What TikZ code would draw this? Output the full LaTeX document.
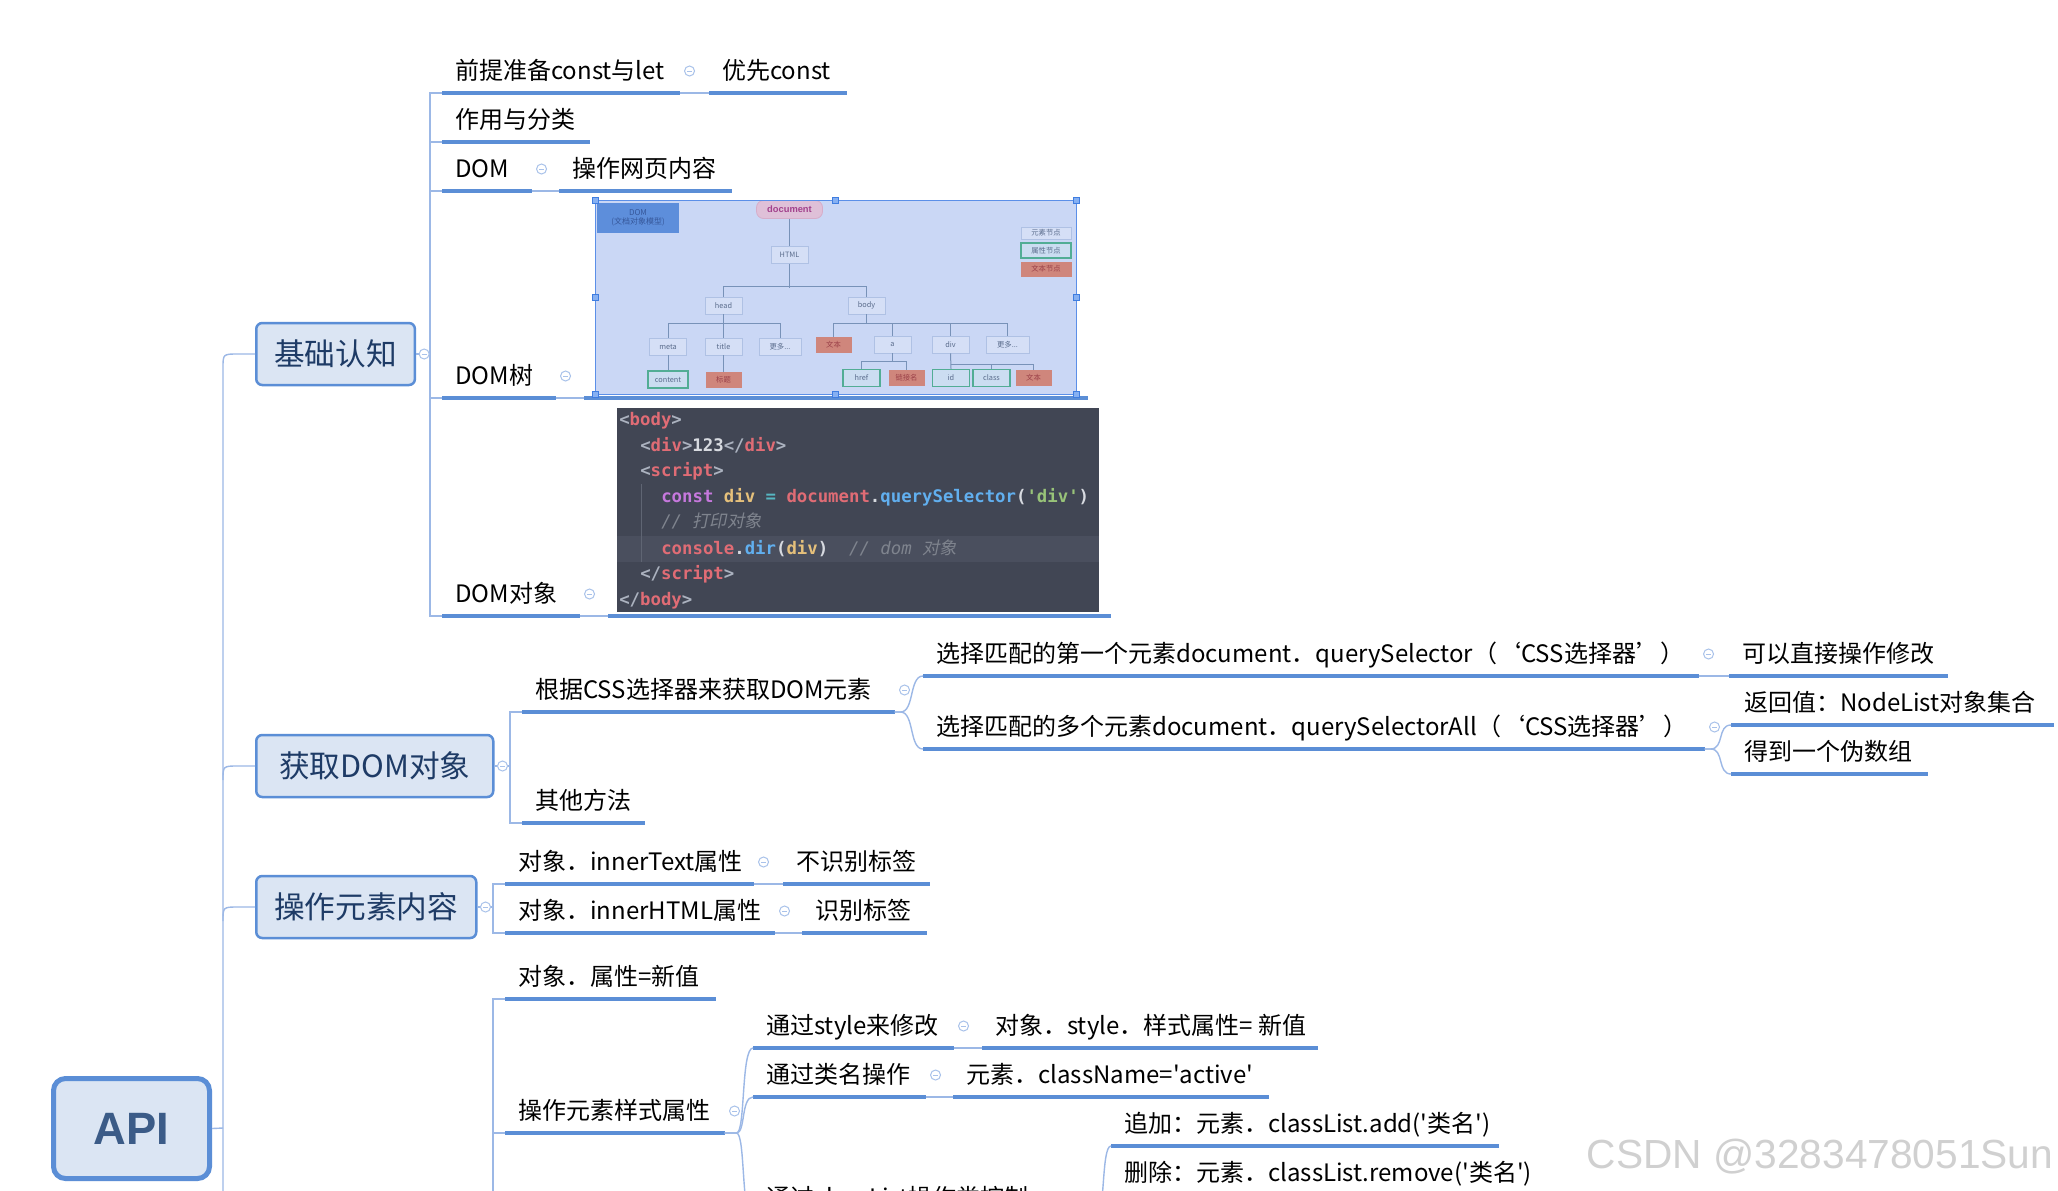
\documentclass[tikz,border=0pt]{standalone}
\usepackage{fontspec}
\newfontfamily\yh{Noto Sans CJK SC}
\newfontfamily\lib{Liberation Sans}
\newfontfamily\codefont{DejaVu Sans Mono}
\newfontfamily\codecjk[FakeSlant=0.2]{Noto Sans CJK SC}
\newdimen\px \px=0.75pt
\newcommand\tw[2]{\makebox[#1\px][l]{\hspace*{13\px}#2}}
\definecolor{ulc}{HTML}{5B8ED6}
\definecolor{cnc}{HTML}{9CB8E6}
\definecolor{boxfill}{HTML}{DBE5F3}
\definecolor{navyc}{HTML}{1E3B66}
\definecolor{apitext}{HTML}{3B5B87}
\definecolor{fcc}{HTML}{A9C2EA}
\definecolor{treebg}{HTML}{CAD7F5}
\definecolor{elfill}{HTML}{D5DFF6}
\definecolor{eldraw}{HTML}{AFC1E4}
\definecolor{eltext}{HTML}{5A6C8C}
\definecolor{tgreen}{HTML}{52AD95}
\definecolor{tgfill}{HTML}{CBDDF1}
\definecolor{tred}{HTML}{CF867C}
\definecolor{tredtext}{HTML}{9A4048}
\definecolor{tlinec}{HTML}{7892B8}
\definecolor{domfill}{HTML}{5D8EDB}
\definecolor{domtext}{HTML}{36579A}
\definecolor{docfill}{HTML}{DFC0D8}
\definecolor{docdraw}{HTML}{D6ADC9}
\definecolor{doctext}{HTML}{A2418C}
\definecolor{framec}{HTML}{5B8FE8}
\definecolor{handlefill}{HTML}{86B0F2}
\definecolor{handledraw}{HTML}{3F7DE0}
\definecolor{codebg}{HTML}{414654}
\definecolor{codehl}{HTML}{4A4F5E}
\definecolor{codeguide}{HTML}{5F6573}
\definecolor{cgray}{HTML}{ABB2BF}
\definecolor{cred}{HTML}{E06C75}
\definecolor{cpurp}{HTML}{C678DD}
\definecolor{cyel}{HTML}{E5C07B}
\definecolor{ccyan}{HTML}{56B6C2}
\definecolor{cblue}{HTML}{61AFEF}
\definecolor{cgreen}{HTML}{98C379}
\definecolor{cwhite}{HTML}{D7DAE0}
\definecolor{ccom}{HTML}{7F848E}
\definecolor{wmgray}{HTML}{D0D0D0}
\newcommand\cdG[1]{\textcolor{cgray}{#1}}
\newcommand\cdR[1]{\textcolor{cred}{#1}}
\newcommand\cdP[1]{\textcolor{cpurp}{#1}}
\newcommand\cdY[1]{\textcolor{cyel}{#1}}
\newcommand\cdC[1]{\textcolor{ccyan}{#1}}
\newcommand\cdB[1]{\textcolor{cblue}{#1}}
\newcommand\cdN[1]{\textcolor{cgreen}{#1}}
\newcommand\cdW[1]{\textcolor{cwhite}{#1}}
\newcommand\cdM[1]{\textcolor{ccom}{\mdseries\itshape #1}}
\newcommand\foldafter[1]{\node[fold] (f-#1) at ([shift={(10,-22)}]#1.south east) {};}
\tikzset{
  topic/.style={anchor=south west, inner sep=0pt, text height=20\px, text depth=13\px,
    font=\yh\fontsize{18}{22}\selectfont},
  uline/.style={draw=ulc, line width=3.5\px},
  conn/.style={draw=cnc, line width=1.4\px},
  kbox/.style={anchor=west, draw=ulc, line width=2.5\px, fill=boxfill, rounded corners=6\px,
    minimum height=62\px, inner xsep=18\px, font=\yh\fontsize{23}{28}\selectfont, text=navyc},
  apibox/.style={draw=ulc, line width=5\px, fill=boxfill, rounded corners=12\px,
    minimum width=156\px, minimum height=100\px, font=\lib\bfseries\fontsize{34}{40}\selectfont, text=apitext},
  fold/.style={circle, draw=fcc, fill=white, line width=1\px, minimum size=10\px, inner sep=0pt,
    path picture={\draw[fcc, line width=1\px] ([xshift=2.5\px]path picture bounding box.west) -- ([xshift=-2.5\px]path picture bounding box.east);}},
  frameholder/.style={anchor=south west, inner sep=0pt},
  tel/.style={draw=eldraw, fill=elfill, line width=0.8\px, minimum width=37\px, minimum height=17\px,
    text=eltext, font=\yh\fontsize{5.5}{6}\selectfont, inner sep=0pt},
  tat/.style={tel, draw=tgreen, line width=1.5\px, fill=tgfill},
  ttx/.style={tel, draw=tred, fill=tred, text=tredtext},
  treeline/.style={draw=tlinec, line width=1\px},
  handle/.style={fill=handlefill, draw=handledraw, line width=0.6\px},
  codeln/.style={anchor=base west, inner sep=0pt, font=\codefont\bfseries\fontsize{13}{15}\selectfont},
  wm/.style={font=\lib\fontsize{30.5}{34}\selectfont, text=wmgray},
}
\begin{document}
\begin{tikzpicture}[x=0.75pt, y=-0.75pt]
\useasboundingbox (0,0) rectangle (2058,1190);
\clip (0,0) rectangle (2058,1190);
\fill[white] (0,0) rectangle (2058,1190);

% ---------- top level boxes ----------
\node[apibox] (api) at (131.5,1128.5) {API};
\node[kbox, minimum width=158\px] (k1) at (255,354) {基础认知};
\node[kbox, minimum width=237\px] (k2) at (255,766) {获取DOM对象};
\node[kbox, minimum width=219\px] (k3) at (255,907) {操作元素内容};

% ---------- 基础认知 children ----------
\node[topic] (a1) at (442,93) {\tw{237}{前提准备const与let}};
\node[topic] (a1c) at (709,93) {\tw{137}{优先const}};
\node[topic] (a2) at (442,142) {\tw{147}{作用与分类}};
\node[topic] (a3) at (442,191) {\tw{89}{DOM}};
\node[topic] (a3c) at (559,191) {\tw{172}{操作网页内容}};
\node[topic] (a4) at (442,398) {\tw{113}{DOM树}};
\node[frameholder, minimum width=503\px, minimum height=198\px] (a4c) at (584,398) {};
\node[topic] (a5) at (442,616) {\tw{137}{DOM对象}};
\node[frameholder, minimum width=502\px, minimum height=208\px] (a5c) at (608,616) {};

% ---------- 获取DOM对象 children ----------
\node[topic] (b1) at (522,712) {\tw{372}{根据CSS选择器来获取DOM元素}};
\node[topic] (b2) at (522,823) {\tw{122}{其他方法}};
\node[topic] (b11) at (923,676) {\tw{775}{选择匹配的第一个元素document．querySelector（‘CSS选择器’）}};
\node[topic] (b11c) at (1729,676) {\tw{218}{可以直接操作修改}};
\node[topic] (b12) at (923,749) {\tw{781}{选择匹配的多个元素document．querySelectorAll（‘CSS选择器’）}};
\node[topic] (b121) at (1731,725) {\tw{322}{返回值：NodeList对象集合}};
\node[topic] (b122) at (1731,774) {\tw{196}{得到一个伪数组}};

% ---------- 操作元素内容 children ----------
\node[topic] (c1) at (505,884) {\tw{248}{对象．innerText属性}};
\node[topic] (c1c) at (783,884) {\tw{146}{不识别标签}};
\node[topic] (c2) at (505,933) {\tw{269}{对象．innerHTML属性}};
\node[topic] (c2c) at (802,933) {\tw{124}{识别标签}};

% ---------- next block children ----------
\node[topic] (d1) at (505,999) {\tw{210}{对象．属性=新值}};
\node[topic] (d2) at (505,1133) {\tw{219}{操作元素样式属性}};
\node[topic] (d21) at (753,1048) {\tw{200}{通过style来修改}};
\node[topic] (d21c) at (982,1048) {\tw{335}{对象．style．样式属性= 新值}};
\node[topic] (d22) at (753,1097) {\tw{172}{通过类名操作}};
\node[topic] (d22c) at (953,1097) {\tw{315}{元素．className='active'}};
\node[topic] (d23) at (753,1220) {\tw{339}{通过classList操作类控制css}};
\node[topic] (d231) at (1111,1146) {\tw{387}{追加：元素．classList.add('类名')}};
\node[topic] (d232) at (1111,1195) {\tw{430}{删除：元素．classList.remove('类名')}};

% ---------- underlines ----------
\foreach \n in {a1,a1c,a2,a3,a3c,a4,a4c,a5,a5c,b1,b2,b11,b11c,b12,b121,b122,c1,c1c,c2,c2c,d1,d2,d21,d21c,d22,d22c,d23,d231,d232}
  \draw[uline] (\n.south west) -- (\n.south east);

% ---------- trunk ----------
\draw[conn] (223,1260) -- (223,368) .. controls (223,354) .. (238,354) -- (k1.west);
\draw[conn] (223,780) .. controls (223,766) .. (238,766) -- (k2.west);
\draw[conn] (223,921) .. controls (223,907) .. (238,907) -- (k3.west);
\draw[conn] (api.east) -- (223,1128);

% ---------- level-2 elbows ----------
\draw[conn] (k1.east) -- (430,354);
\foreach \n in {a1,a2,a3,a4,a5} \draw[conn] (430,354) |- (\n.south west);
\draw[conn] (k2.east) -- (510,766);
\foreach \n in {b1,b2} \draw[conn] (510,766) |- (\n.south west);
\draw[conn] (k3.east) -- (493,907);
\foreach \n in {c1,c2} \draw[conn] (493,907) |- (\n.south west);
\foreach \n in {d1,d2} \draw[conn] (493,1260) |- (\n.south west);

% ---------- straight child links ----------
\draw[conn] (a1.south east) -- (a1c.south west);
\draw[conn] (a3.south east) -- (a3c.south west);
\draw[conn] (a4.south east) -- (a4c.south west);
\draw[conn] (a5.south east) -- (a5c.south west);
\draw[conn] (b11.south east) -- (b11c.south west);
\draw[conn] (c1.south east) -- (c1c.south west);
\draw[conn] (c2.south east) -- (c2c.south west);
\draw[conn] (d21.south east) -- (d21c.south west);
\draw[conn] (d22.south east) -- (d22c.south west);

% ---------- curved child links ----------
\draw[conn] (b1.south east) -- ++(6,0) .. controls +(14,0) and +(-14,0) .. (b11.south west);
\draw[conn] (b1.south east) -- ++(6,0) .. controls +(14,0) and +(-14,0) .. (b12.south west);
\draw[conn] (b12.south east) -- ++(6,0) .. controls +(14,0) and +(-14,0) .. (b121.south west);
\draw[conn] (b12.south east) -- ++(6,0) .. controls +(14,0) and +(-14,0) .. (b122.south west);
\draw[conn] (d2.south east) -- ++(12,0) .. controls +(9,0) and +(-12,0) .. (d21.south west);
\draw[conn] (d2.south east) -- ++(12,0) .. controls +(9,0) and +(-12,0) .. (d22.south west);
\draw[conn] (d2.south east) -- ++(12,0) .. controls +(9,0) and +(-12,0) .. (d23.south west);
\draw[conn] (d23.south east) -- ++(3,0) .. controls +(10,0) and +(-10,0) .. (d231.south west);
\draw[conn] (d23.south east) -- ++(3,0) .. controls +(10,0) and +(-10,0) .. (d232.south west);

% ---------- fold circles ----------
\node[fold] (f-k1) at ([xshift=8\px]k1.east) {};
\node[fold] (f-k2) at ([xshift=8\px]k2.east) {};
\node[fold] (f-k3) at ([xshift=8\px]k3.east) {};
\foldafter{a1}\foldafter{a3}\foldafter{a4}\foldafter{a5}
\foldafter{b1}\foldafter{b11}\foldafter{b12}
\foldafter{c1}\foldafter{c2}
\foldafter{d2}\foldafter{d21}\foldafter{d22}\foldafter{d23}

% ---------- DOM tree picture ----------
\fill[treebg] (595,200) rectangle (1076,394);
\node[fill=domfill, minimum width=82\px, minimum height=30\px, inner sep=0pt, align=center,
  text=domtext, font=\yh\fontsize{6}{7}\selectfont] (tdom) at (638,218) {DOM\\(文档对象模型)};
\node[fill=docfill, draw=docdraw, line width=0.8\px, rounded corners=7\px, minimum width=66\px,
  minimum height=18\px, inner sep=0pt, text=doctext, font=\lib\bfseries\fontsize{7}{8}\selectfont] (tdoc) at (789.5,209.5) {document};
\node[tel] (thtml) at (789.5,255) {HTML};
\node[tel] (thead) at (723.5,305.5) {head};
\node[tel] (tbody) at (866.5,305.5) {body};
\node[tel] (tmeta) at (668,346.5) {meta};
\node[tel] (ttitle) at (723.5,346.5) {title};
\node[tel, minimum width=42\px] (tmore1) at (780,346.5) {更多...};
\node[tat, minimum width=40\px] (tcontent) at (668,379.5) {content};
\node[ttx, minimum width=35\px, minimum height=15\px] (tbiaoti) at (723.5,379.5) {标题};
\node[ttx, minimum width=35\px, minimum height=15\px] (ttext1) at (833.5,344.5) {文本};
\node[tel] (ta) at (892.5,344.5) {a};
\node[tel] (tdiv) at (950.5,344.5) {div};
\node[tel, minimum width=43\px] (tmore2) at (1007.5,344.5) {更多...};
\node[tat] (thref) at (861.5,378) {href};
\node[ttx, minimum width=35\px, minimum height=15\px] (tlink) at (906.5,377.5) {链接名};
\node[tat] (tid) at (951,378) {id};
\node[tat] (tclass) at (991.5,378) {class};
\node[ttx, minimum width=35\px, minimum height=15\px] (ttext2) at (1033.5,377.5) {文本};
\node[tel, minimum width=50\px, minimum height=12\px] (lg1) at (1046,233) {元素节点};
\node[tat, minimum width=50\px, minimum height=15\px] (lg2) at (1046,250.5) {属性节点};
\node[ttx, minimum width=50\px, minimum height=14\px] (lg3) at (1046,269) {文本节点};
\draw[treeline] (tdoc.south) -- (thtml.north);
\draw[treeline] (thtml.south) -- ++(0,24);
\draw[treeline] (thead.north) -- ++(0,-10) -| (tbody.north);
\draw[treeline] (thead.south) -- (ttitle.north);
\draw[treeline] (tmeta.north) -- ++(0,-14) -| (tmore1.north);
\draw[treeline] (tmeta.south) -- (tcontent.north);
\draw[treeline] (ttitle.south) -- (tbiaoti.north);
\draw[treeline] (tbody.south) -- ++(0,10);
\draw[treeline] (ttext1.north) -- ++(0,-13) -| (tmore2.north);
\draw[treeline] (ta.north) -- ++(0,-12);
\draw[treeline] (tdiv.north) -- ++(0,-12);
\draw[treeline] (ta.south) -- ++(0,9);
\draw[treeline] (thref.north) -- ++(0,-7) -| (tlink.north);
\draw[treeline] (tdiv.south) -- (tid.north);
\draw[treeline] (tdiv.south) ++(0,11) -| (tclass.north);
\draw[treeline] (tdiv.south) ++(0,11) -| (ttext2.north);
\draw[framec, line width=1\px] (595,200) rectangle (1076,394);
\foreach \hx/\hy in {595/200,835.5/200,1076/200,595/297,1076/297,595/394,835.5/394,1076/394}
  \filldraw[handle] (\hx-3,\hy-3) rectangle (\hx+3,\hy+3);

% ---------- code picture ----------
\fill[codebg] (617,408) rectangle (1099,612);
\fill[codehl] (617,536) rectangle (1099,562);
\draw[codeguide, line width=1\px] (641,484) -- (641,562);
\node[codeln] (l1) at (619,425) {\cdG{<}\cdR{body}\cdG{>}};
\node[codeln] (l2) at (640,451) {\cdG{<}\cdR{div}\cdG{>}\cdW{123}\cdG{</}\cdR{div}\cdG{>}};
\node[codeln] (l3) at (640,476) {\cdG{<}\cdR{script}\cdG{>}};
\node[codeln] (l4) at (661,502) {\cdP{const} \cdY{div} \cdC{=} \cdR{document}\cdW{.}\cdB{querySelector}\cdW{(}\cdN{'div'}\cdW{)}};
\node[codeln] (l5) at (661,527) {\cdM{// {\codecjk 打印对象}}};
\node[codeln] (l6) at (661,554) {\cdR{console}\cdW{.}\cdB{dir}\cdW{(}\cdY{div}\cdW{)}\ \ \cdM{// dom {\codecjk 对象}}};
\node[codeln] (l7) at (640,579) {\cdG{</}\cdR{script}\cdG{>}};
\node[codeln] (l8) at (619,605) {\cdG{</}\cdR{body}\cdG{>}};

% ---------- watermark ----------
\node[wm] (wmark) at (1820,1157) {CSDN @3283478051Sun};
\end{tikzpicture}
\end{document}
